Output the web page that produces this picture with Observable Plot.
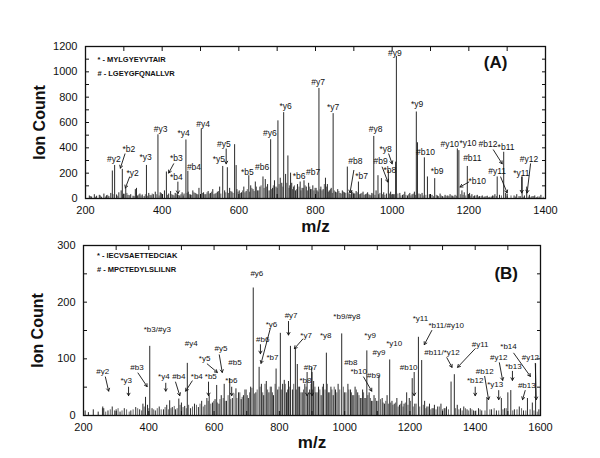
<!DOCTYPE html>
<html><head><meta charset="utf-8">
<script src="https://cdn.jsdelivr.net/npm/d3@7"></script>
<script src="https://cdn.jsdelivr.net/npm/@observablehq/plot@0.6"></script>
<style>
body{margin:0;background:#fff;}
#chart{width:600px;height:458px;}
#chart svg{display:block;}
</style></head><body><div id="chart"></div>
<script>
// ---------- Panel A data ----------
const peaksA = [[270,217],[276,261],[296,230],[333,80],[359,261],[389,503],[411,209],[462,462],[467,215],[502,548],[558,253],[570,243],[589,425],[593,260],[626,180],[663,170],[683,464],[702,613],[717,678],[722,190],[728,336],[735,200],[809,869],[846,670],[883,248],[912,130],[952,490],[963,180],[972,157],[990,222],[1009,287],[1011,1122],[1063,683],[1066,440],[1084,321],[1092,170],[1111,157],[1170,391],[1174,378],[1196,253],[1274,170],[1291,365],[1339,170],[1351,90]];
const noiseA = [[210,20],[216,12],[223,30],[229,18],[236,25],[242,10],[248,35],[255,22],[261,15],[266,40],[281,28],[287,45],[293,60],[300,35],[305,80],[311,25],[318,30],[324,18],[330,70],[336,20],[342,35],[348,28],[353,15],[365,40],[371,22],[377,30],[382,50],[395,45],[401,30],[406,60],[417,35],[422,55],[428,25],[434,40],[440,30],[446,20],[452,45],[457,35],[468,50],[474,28],[480,60],[486,40],[491,30],[496,80],[508,45],[514,30],[520,55],[526,40],[532,70],[538,35],[544,50],[550,90],[563,60],[576,80],[582,50],[595,70],[601,60],[607,45],[613,90],[619,55],[631,100],[637,70],[643,130],[649,60],[655,90],[669,150],[675,110],[679,60],[688,80],[693,140],[697,90],[708,160],[712,120],[733,100],[738,120],[743,90],[748,60],[753,110],[760,130],[765,80],[770,140],[776,90],[782,120],[787,70],[793,100],[799,80],[804,60],[814,90],[820,70],[826,160],[831,110],[836,60],[841,80],[852,50],[858,70],[864,40],[870,60],[876,45],[888,35],[894,60],[900,40],[906,55],[918,35],[924,50],[930,30],[936,45],[942,25],[947,40],[958,60],[965,30],[978,45],[985,35],[996,50],[1003,30],[1020,40],[1027,25],[1033,50],[1040,20],[1046,40],[1052,30],[1058,50],[1070,35],[1078,40],[1097,30],[1104,25],[1118,20],[1125,35],[1131,15],[1138,25],[1145,20],[1151,30],[1158,18],[1164,25],[1182,60],[1188,45],[1202,40],[1208,30],[1215,20],[1222,25],[1228,15],[1235,20],[1242,12],[1248,18],[1255,10],[1262,20],[1268,30],[1280,25],[1296,40],[1318,20],[1325,30],[1331,15],[1345,20],[1358,25],[1365,15],[1372,20],[1380,12],[1388,25]];
const noiseA2 = [[213,15],[226,10],[239,20],[252,12],[258,25],[272,30],[284,18],[297,25],[308,40],[315,22],[327,15],[339,28],[345,20],[356,30],[362,18],[368,25],[374,35],[386,30],[392,20],[398,40],[414,25],[425,30],[431,20],[437,35],[443,25],[449,30],[455,20],[465,40],[471,30],[477,25],[483,45],[489,35],[494,28],[505,40],[511,30],[517,45],[523,35],[529,50],[535,30],[541,40],[547,55],[553,35],[566,45],[573,40],[579,55],[585,40],[598,50],[604,40],[610,60],[616,45],[622,70],[628,50],[634,80],[640,55],[646,90],[652,60],[658,100],[666,80],[672,90],[685,70],[690,100],[700,80],[705,110],[715,90],[725,120],[731,80],[740,70],[745,100],[751,70],[757,90],[762,60],[768,80],[773,100],[779,60],[785,90],[790,70],[796,60],[802,80],[807,50],[812,70],[817,60],[823,110],[829,90],[834,50],[839,70],[844,40],[849,60],[855,45],[861,55],[867,35],[873,50],[879,40],[885,45],[891,30],[897,50],[903,35],[909,45],[915,30],[921,40],[927,25],[933,35],[939,30],[945,20],[950,35],[955,25],[968,40],[975,30],[981,25],[993,35],[999,25],[1006,30],[1015,35],[1023,20],[1030,30],[1036,25],[1043,30],[1049,20],[1055,35],[1061,25],[1074,30],[1081,20],[1088,25],[1100,20],[1108,15],[1115,25],[1121,15],[1128,20],[1135,12],[1141,18],[1148,15],[1155,20],[1161,12],[1168,18],[1178,30],[1185,25],[1192,20],[1199,30],[1205,18],[1212,15],[1219,20],[1225,12],[1232,15],[1239,10],[1245,15],[1252,8],[1259,12],[1265,18],[1272,15],[1285,20],[1300,15],[1310,20],[1322,12],[1335,15],[1342,10],[1355,12],[1362,10],[1369,15],[1376,8],[1384,12],[1394,10]];
const labelsA = [["#y2",274,313],["*b2",313,391],["*y2",323,203],["*y3",357,326],["#y3",396,548],["*y4",456,514],["*b3",437,318],["*b4",437,170],["#b4",483,248],["#y4",507,587],["#y5",561,430],["*y5",548,313],["*b5",622,209],["#b6",661,248],["#y6",681,514],["*y6",722,730],["*b6",757,175],["#b7",794,209],["#y7",807,921],["*y7",846,723],["#y9",1007,1148],["#y8",957,548],["#b8",904,295],["*b7",920,177],["*y8",983,391],["#b9",970,292],["*b8",994,222],["*y9",1065,743],["#b10",1087,365],["*b9",1117,217],["#y10",1150,430],["*y10",1198,436],["#b11",1209,321],["*b10",1222,138],["#b12",1250,430],["*b11",1297,404],["#y11",1274,214],["*y11",1337,201],["#y12",1357,313]];
const arrowsA = [[303,352,291,240],[315,170,304,83],[430,274,417,201],[441,130,441,39],[567,391,567,274],[900,222,890,44],[991,352,1000,274],[974,248,989,130],[1200,130,1177,91],[1264,384,1287,274],[1283,170,1300,44],[1338,170,1338,44],[1361,274,1352,44]];
const legendA = [["* - MYLGYEYVTAIR",231,1096],["# - LGEYGFQNALLVR",231,984]];
const tagA = ["(A)",1270,1070];
const xLabelsA = [200,400,600,800,1000,1200,1400];
const xTicksA = [200,300,400,500,600,700,800,900,1000,1100,1200,1300,1400];
const yLabelsA = [0,200,400,600,800,1000,1200];
const yTicksA = [0,100,200,300,400,500,600,700,800,900,1000,1100,1200];

// ---------- Panel B data ----------
const peaksB = [[259,15],[390,32],[403,122],[464,26],[492,29],[518,92],[585,35],[608,53],[631,55],[648,65],[667,47],[720,225],[738,85],[790,82],[803,145],[815,62],[834,122],[849,118],[855,90],[899,84],[944,110],[991,144],[1010,55],[1068,114],[1105,70],[1138,98],[1190,40],[1207,65],[1226,138],[1236,97],[1326,59],[1336,72],[1436,30],[1480,30],[1500,40],[1509,44],[1560,30],[1575,22],[1585,91]];
const noiseB = [[205,8],[215,5],[230,10],[245,6],[262,12],[275,8],[288,15],[300,10],[312,6],[325,12],[345,8],[360,14],[372,10],[382,20],[396,18],[410,12],[420,8],[432,15],[445,10],[455,18],[472,14],[482,10],[500,22],[510,16],[528,12],[540,20],[552,14],[562,25],[572,18],[578,30],[595,22],[603,28],[615,20],[622,35],[638,25],[656,30],[675,40],[683,28],[690,35],[698,45],[705,30],[712,50],[728,40],[745,55],[752,35],[760,60],[768,40],[775,50],[782,35],[795,45],[810,55],[822,40],[828,60],[840,45],[862,50],[870,40],[878,55],[886,35],[893,45],[905,60],[912,40],[920,50],[928,35],[935,55],[950,40],[958,50],[965,35],[972,45],[980,55],[1000,40],[1018,45],[1025,35],[1032,50],[1040,40],[1048,30],[1055,45],[1062,30],[1075,40],[1082,25],[1090,35],[1098,25],[1115,30],[1122,20],[1130,35],[1145,25],[1152,20],[1160,30],[1168,18],[1175,25],[1182,20],[1198,30],[1215,20],[1245,25],[1252,15],[1260,20],[1268,12],[1275,18],[1285,15],[1295,20],[1305,12],[1312,15],[1345,18],[1355,12],[1365,15],[1375,10],[1385,12],[1395,8],[1410,12],[1420,8],[1450,10],[1465,8],[1490,12],[1520,10],[1535,15],[1548,8],[1595,10]];
const noiseB2 = [[258,12],[268,6],[282,10],[295,8],[306,12],[318,8],[332,10],[340,6],[352,10],[366,12],[378,8],[386,15],[400,12],[415,10],[426,12],[438,10],[450,14],[460,10],[468,12],[478,16],[487,12],[496,18],[505,14],[515,12],[522,18],[534,15],[546,18],[557,20],[567,15],[582,25],[590,20],[599,25],[610,22],[618,28],[628,30],[634,25],[643,35],[651,28],[661,38],[670,30],[679,40],[686,32],[694,45],[702,35],[709,40],[716,48],[724,38],[732,45],[741,50],[749,40],[756,55],[764,45],[772,50],[779,40],[787,55],[799,50],[806,45],[818,55],[825,45],[832,50],[844,55],[852,45],[859,50],[866,40],[874,45],[882,50],[890,40],[897,55],[902,45],[909,50],[916,40],[924,45],[932,50],[940,45],[947,55],[954,40],[961,45],[968,50],[976,40],[985,45],[996,50],[1004,40],[1013,45],[1021,40],[1028,35],[1036,45],[1044,35],[1051,30],[1058,40],[1065,30],[1071,35],[1079,30],[1086,25],[1094,30],[1102,25],[1110,28],[1118,22],[1126,25],[1134,20],[1141,22],[1148,18],[1156,22],[1164,15],[1172,20],[1179,15],[1186,22],[1194,18],[1202,25],[1210,15],[1219,20],[1230,15],[1241,18],[1249,12],[1256,15],[1264,10],[1272,12],[1280,10],[1290,15],[1300,10],[1308,12],[1318,10],[1340,12],[1350,10],[1360,8],[1370,12],[1380,8],[1390,10],[1402,8],[1415,10],[1430,8],[1445,10],[1458,12],[1472,8],[1485,10],[1495,12],[1515,8],[1528,10],[1542,12],[1555,8],[1568,10],[1580,8],[1590,6]];
const labelsB = [["#y2",259,78],["*y3",331,61],["#b3",364,85],["*b3/#y3",426,151],["*y4",446,69],["#b4",492,69],["*b4",547,69],["#y4",530,128],["*y5",571,100],["#y5",621,118],["*b5",590,69],["#b5",664,93],["*b6",653,61],["#y6",731,251],["*y6",776,160],["#b6",749,134],["*b7",779,102],["#y7",836,176],["*y7",882,142],["*y8",942,142],["#b7",895,85],["*b8",880,61],["*b9/#y8",1007,175],["*y9",1078,142],["#y9",1105,112],["#b8",1019,94],["*b10",1043,78],["#b9",1089,71],["*y10",1152,128],["#b10",1196,85],["*y11",1232,171],["*b11/#y10",1311,159],["#b11/*y12",1298,112],["#y11",1415,126],["*b14",1502,121],["#y12",1472,103],["*b13",1517,86],["#b12",1429,78],["*b12",1400,62],["*y13",1461,54],["#y12",1569,103],["#b13",1558,53]];
const arrowsB = [[267,68,277,43],[338,50,338,35],[367,75,395,51],[452,57,452,43],[482,59,495,35],[533,61,513,43],[579,91,610,76],[616,107,625,76],[583,59,583,35],[654,50,654,35],[772,153,744,92],[742,125,742,109],[828,166,828,142],[872,135,846,118],[885,76,885,35],[900,76,900,35],[1058,68,1083,43],[1213,76,1213,35],[1267,150,1244,125],[1313,102,1329,85],[1400,118,1346,85],[1518,110,1569,69],[1474,93,1484,62],[1514,78,1514,62],[1429,69,1441,28],[1400,50,1400,35],[1472,44,1472,28],[1584,92,1587,28],[1553,44,1545,28]];
const legendB = [["* - IECVSAETTEDCIAK",241,282],["# - MPCTEDYLSLILNR",241,257]];
const tagB = ["(B)",1495,250];
const xLabelsB = [200,400,600,800,1000,1200,1400,1600];
const xTicksB = [200,300,400,500,600,700,800,900,1000,1100,1200,1300,1400,1500,1600];
const yLabelsB = [0,100,200,300];
const yTicksB = [0,50,100,150,200,250,300];

const FONT = "'Liberation Sans', Arial, Helvetica, sans-serif";

function panel(o) {
  const blank = () => "";
  const plain = d => String(d);
  return Plot.plot({
    width: 600, height: o.h,
    marginTop: o.mt, marginBottom: o.mb, marginLeft: o.ml, marginRight: o.mr,
    style: {fontFamily: FONT, background: "white", color: "#111"},
    x: {domain: o.xd, label: null},
    y: {domain: o.yd, label: null},
    marks: [
      Plot.ruleX(o.noise2, {x: d => d[0], y1: 0, y2: d => d[1], stroke: "#555", strokeWidth: 0.9}),
      Plot.ruleX(o.noise, {x: d => d[0], y1: 0, y2: d => d[1], stroke: "#111", strokeWidth: 0.9}),
      Plot.ruleX(o.peaks, {x: d => d[0], y1: 0, y2: d => d[1], stroke: "#2a2a2a", strokeWidth: 1}),
      Plot.axisX(o.xl, {anchor: "bottom", tickSize: 0, tickPadding: 8, fontSize: 11, tickFormat: plain, label: null}),
      Plot.axisX(o.xt, {anchor: "bottom", tickSize: -4, tickFormat: blank, label: null}),
      Plot.axisX(o.xt, {anchor: "top", tickSize: -4, tickFormat: blank, label: null}),
      Plot.axisY(o.yl, {anchor: "left", tickSize: 0, tickPadding: 8, fontSize: 11, tickFormat: plain, label: null}),
      Plot.axisY(o.yt, {anchor: "left", tickSize: -4, tickFormat: blank, label: null}),
      Plot.axisY(o.yt, {anchor: "right", tickSize: -4, tickFormat: blank, label: null}),
      Plot.frame({stroke: "#111", strokeWidth: 1.3}),
      Plot.arrow(o.arrows, {x1: d => d[0], y1: d => d[1], x2: d => d[2], y2: d => d[3], stroke: "#111", strokeWidth: 0.9, headLength: 5, bend: 0}),
      Plot.text(o.labels, {x: d => d[1], y: d => d[2], text: d => d[0], fontSize: o.lfs, fill: "#111"}),
      Plot.text(o.legend, {x: d => d[1], y: d => d[2], text: d => d[0], fontSize: 7.5, fontWeight: "bold", textAnchor: "start", fill: "#111"}),
      Plot.text([o.tag], {x: d => d[1], y: d => d[2], text: d => d[0], fontSize: 17, fontWeight: "bold", fill: "#111"}),
      Plot.text(["Ion Count"], {frameAnchor: "left", textAnchor: "middle", lineAnchor: "middle", rotate: -90, dx: -46, dy: o.ylabDy, fontSize: 16, fontWeight: "bold", fill: "#111"}),
      Plot.text(["m/z"], {frameAnchor: "bottom", textAnchor: "middle", lineAnchor: "middle", dy: o.xlabDy, fontSize: 17, fontWeight: "bold", fill: "#111"})
    ]
  });
}

const chart = document.getElementById("chart");
chart.append(panel({h: 236, mt: 46, mb: 38, ml: 85, mr: 55, xd: [200, 1400], yd: [0, 1200],
  peaks: peaksA, noise: noiseA, noise2: noiseA2, labels: labelsA, arrows: arrowsA, legend: legendA, tag: tagA,
  xl: xLabelsA, xt: xTicksA, yl: yLabelsA, yt: yTicksA, ylabDy: 0, xlabDy: 28, lfs: 8.5}));
chart.append(panel({h: 222, mt: 9, mb: 43, ml: 83, mr: 60, xd: [200, 1600], yd: [0, 300],
  peaks: peaksB, noise: noiseB, noise2: noiseB2, labels: labelsB, arrows: arrowsB, legend: legendB, tag: tagB,
  xl: xLabelsB, xt: xTicksB, yl: yLabelsB, yt: yTicksB, ylabDy: 0, xlabDy: 27, lfs: 8}));
</script>
</body></html>
